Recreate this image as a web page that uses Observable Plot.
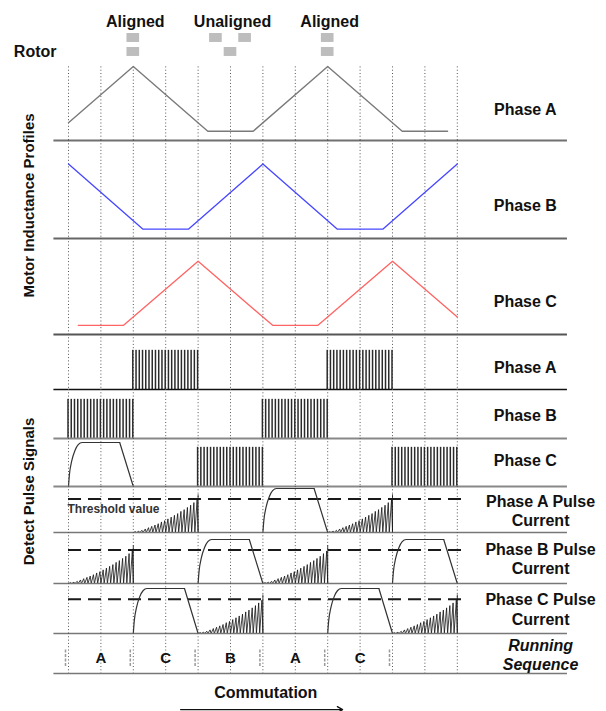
<!DOCTYPE html>
<html><head><meta charset="utf-8">
<script src="https://cdn.jsdelivr.net/npm/d3@7"></script>
<script src="https://cdn.jsdelivr.net/npm/@observablehq/plot@0.6"></script>
<style>
body{margin:0;background:#fff;}
#chart{width:606px;height:711px;position:relative;overflow:hidden;background:#fff;}
#chart svg{display:block;overflow:visible;}
</style></head><body><div id="chart"></div>
<script>
// ---------- data ----------
const gridTicks = [0,1,2,3,4,5,6,7,8,9,10,11,12];
const segmentStarts = [0,2,4,6,8,10];

const rotorStates = ["Aligned","Unaligned","Aligned"];
const rotorPositions = [2,5,8];
const polePattern = {Aligned: [[0,0],[0,1]], Unaligned: [[-0.45,0],[0.45,0],[0,1]]};

const inductanceA = [[0,2.4],[2,10],[4.3,1.25],[5.7,1.25],[8,10],[10.3,1.25],[11.7,1.25]];
const inductanceB = [[0,10],[2.3,1.25],[3.7,1.25],[6,10],[8.3,1.25],[9.7,1.25],[12,10]];
const inductanceC = [[0.3,1.25],[1.7,1.25],[4,10],[6.3,1.25],[7.7,1.25],[10,10],[12,2.4]];

const pulseSegmentsA = [1,4];
const pulseSegmentsB = [0,3];
const pulseSegmentsC = [2,5];
const pulseOffsets = [0,0.1,0.2,0.3,0.4,0.5,0.6,0.7,0.8,0.9,1.0,1.1,1.2,1.3,1.4,1.5,1.6,1.7,1.8,1.9,2.0];
const pulseLevel = 0.89;

const thresholdLevel = 0.76;
const rampHeights = [0.02,0.03,0.05,0.08,0.11,0.14,0.17,0.2,0.24,0.27,0.31,0.35,0.39,0.43,0.48,0.52,0.57,0.62,0.68,0.74];
const rampEndLevel = 0.86;
const currentRise = [[0,0],[0.03,0.28],[0.1,0.58],[0.2,0.82],[0.3,0.95],[0.42,1],[1.58,1]];
const currentFall = [[1.58,1],[2,0]];
const shapeStartsPulseC = [0];
const shapeStartsA = [6];
const shapeStartsB = [4,10];
const shapeStartsC = [2,8];

const sequence = ["A","C","B","A","C"];
const inductanceLabels = ["Phase A","Phase B","Phase C"];
const pulseLabels = ["Phase A","Phase B","Phase C"];
const currentLabels = ["Phase A Pulse\nCurrent","Phase B Pulse\nCurrent","Phase C Pulse\nCurrent"];

// ---------- helpers ----------
const FONT = "Liberation Sans, Arial, Helvetica, sans-serif";
const W = 606;
const root = document.getElementById("chart");
function panel(h, yDomain, yRange, marks) {
  const svg = Plot.plot({
    width: W, height: h, margin: 0,
    x: {domain: [0, 12], range: [68, 456.8], axis: null},
    y: {domain: yDomain, range: yRange, axis: null},
    style: {overflow: "visible", fontFamily: FONT, background: "transparent", color: "#000"},
    marks
  });
  root.append(svg);
}
const grid = (opts = {}) => Plot.ruleX(gridTicks, {stroke: "#555", strokeWidth: 1, strokeDasharray: "1,2.3", ...opts});
const sep = (stroke = "#777", w = 2) => Plot.ruleY([0], {x1: -0.45, x2: 15.4, stroke, strokeWidth: w});
const rightLabel = (t, dy, x = 14.1) => Plot.text([t], {text: d => d, x, frameAnchor: "middle", dy, fontSize: 16, fontWeight: "bold", fill: "#111", lineHeight: 1.22});
const pts = (arr) => arr.map(([x, y]) => ({x, y}));
function pulses(segs) {
  const out = [];
  for (const s of segs) for (const o of pulseOffsets) out.push({x: segmentStarts[s] + o});
  return out;
}
function pulseMark(segs) {
  return Plot.rect(pulses(segs), {x1: d => d.x - 0.023, x2: d => d.x + 0.023, y1: 0, y2: pulseLevel, fill: "#2a2a2a"});
}
function ramps(segs) {
  const out = [];
  for (const s of segs) {
    const u0 = segmentStarts[s];
    rampHeights.forEach((h, k) => {
      out.push({x: u0 + pulseOffsets[k], y: 0, z: s});
      out.push({x: u0 + pulseOffsets[k] + 0.07, y: h, z: s});
    });
    out.push({x: u0 + 2, y: 0, z: s});
    out.push({x: u0 + 2, y: rampEndLevel, z: s});
  }
  return out;
}
function shapeMarks(starts) {
  const rise = [], fall = [];
  starts.forEach((s, i) => {
    currentRise.forEach(([dx, y]) => rise.push({x: s + dx, y, z: i}));
    currentFall.forEach(([dx, y]) => fall.push({x: s + dx, y, z: i}));
  });
  return [
    Plot.line(rise, {x: "x", y: "y", z: "z", curve: "monotone-x", stroke: "#333", strokeWidth: 1.2}),
    Plot.line(fall, {x: "x", y: "y", z: "z", stroke: "#333", strokeWidth: 1.2})
  ];
}
const threshold = () => Plot.ruleY([thresholdLevel], {x1: 0, x2: 12.28, stroke: "#1a1a1a", strokeWidth: 2, strokeDasharray: "13,7"});
const rampMark = (segs) => Plot.line(ramps(segs), {x: "x", y: "y", z: "z", stroke: "#111", strokeWidth: 0.8});

// ---------- header: rotor ----------
const poles = [];
rotorStates.forEach((st, i) => polePattern[st].forEach(([dx, row]) => poles.push({u: rotorPositions[i] + dx, row})));
panel(60, [0, 1], [33, 47], [
  Plot.rect(poles, {x1: d => d.u - 0.195, x2: d => d.u + 0.195, y1: "row", y2: d => d.row + 0.64, fill: "#bdbdbd"}),
  Plot.text(rotorStates, {text: d => d, x: (d, i) => rotorPositions[i], y: -0.8, dx: 2, fontSize: 16, fontWeight: "bold", fill: "#111"}),
  Plot.text(["Rotor"], {text: d => d, x: -0.37, y: 1.34, textAnchor: "end", fontSize: 16, fontWeight: "bold", fill: "#111"})
]);

// ---------- inductance profiles ----------
panel(80, [0, 10], [80, 6], [
  grid({y1: 0, y2: 10}),
  Plot.line(pts(inductanceA), {x: "x", y: "y", stroke: "#7a7a7a", strokeWidth: 1.4}),
  sep("#707070", 2),
  rightLabel(inductanceLabels[0], 8)
]);
panel(98, [0, 10], [98, 23.5], [
  grid(),
  Plot.line(pts(inductanceB), {x: "x", y: "y", stroke: "#4646ff", strokeWidth: 1.3}),
  sep("#666", 2),
  rightLabel(inductanceLabels[1], 15),
  Plot.text(["Motor Inductance Profiles"], {text: d => d, x: -1.22, frameAnchor: "middle", dy: 16, rotate: -90, fontSize: 15, fontWeight: "bold", fill: "#111"})
]);
panel(96, [0, 10], [96, 22.7], [
  grid(),
  Plot.line(pts(inductanceC), {x: "x", y: "y", stroke: "#ff6363", strokeWidth: 1.3}),
  sep("#555", 2),
  rightLabel(inductanceLabels[2], 14)
]);

// ---------- detect pulse signals ----------
panel(55, [0, 1], [55, 11], [
  grid(),
  pulseMark(pulseSegmentsA),
  sep("#111", 1.6),
  rightLabel(pulseLabels[0], 4.5)
]);
panel(49, [0, 1], [49, 5], [
  grid(),
  pulseMark(pulseSegmentsB),
  sep("#888", 2),
  rightLabel(pulseLabels[1], 0.8)
]);
panel(48, [0, 1], [48, 4], [
  grid(),
  pulseMark(pulseSegmentsC),
  ...shapeMarks(shapeStartsPulseC),
  sep("#888", 2),
  rightLabel(pulseLabels[2], -2.7)
]);

// ---------- pulse currents ----------
panel(46, [0, 1], [46, 2], [
  grid(),
  threshold(),
  rampMark(pulseSegmentsA),
  ...shapeMarks(shapeStartsA),
  Plot.text(["Threshold value"], {text: d => d, x: 0, frameAnchor: "middle", dx: -1, dy: 0, textAnchor: "start", fontSize: 12, fontWeight: "bold", fill: "#333"}),
  sep("#777", 1.6),
  rightLabel(currentLabels[0], 0.5, 14.57),
  Plot.text(["Detect Pulse Signals"], {text: d => d, x: -1.22, frameAnchor: "middle", dy: -18, rotate: -90, fontSize: 15, fontWeight: "bold", fill: "#111"})
]);
panel(51, [0, 1], [51, 7], [
  grid(),
  threshold(),
  rampMark(pulseSegmentsB),
  ...shapeMarks(shapeStartsB),
  sep("#777", 1.6),
  rightLabel(currentLabels[1], 0, 14.57)
]);
panel(50, [0, 1], [50, 5], [
  grid(),
  threshold(),
  rampMark(pulseSegmentsC),
  ...shapeMarks(shapeStartsC),
  sep("#777", 1.6),
  rightLabel(currentLabels[2], 0.3, 14.57)
]);

// ---------- running sequence ----------
panel(40, [0, 1], [40, 0], [
  grid(),
  Plot.ruleX(segmentStarts, {y1: 0.175, y2: 0.625, dx: -3, stroke: "#999", strokeWidth: 1.5, strokeDasharray: "3,1.5"}),
  Plot.text(sequence, {text: d => d, x: (d, i) => segmentStarts[i] + 1, frameAnchor: "middle", dy: 4.5, fontSize: 15, fontWeight: "bold", fill: "#111"}),
  sep("#777", 1.6),
  Plot.text(["Running\nSequence"], {text: d => d, x: 14.57, frameAnchor: "middle", dy: 1.2, fontSize: 16, fontWeight: "bold", fontStyle: "italic", fill: "#111", lineHeight: 1.15})
]);

// ---------- footer ----------
panel(38, [0, 1], [38, 0], [
  Plot.text(["Commutation"], {text: d => d, x: 6.09, frameAnchor: "middle", dy: 0.7, fontSize: 16, fontWeight: "bold", fill: "#111"}),
  Plot.arrow([0], {x1: 3.46, x2: 8.46, y1: 0.05, y2: 0.05, stroke: "#111", strokeWidth: 1.3, headLength: 7})
]);
</script></body></html>
